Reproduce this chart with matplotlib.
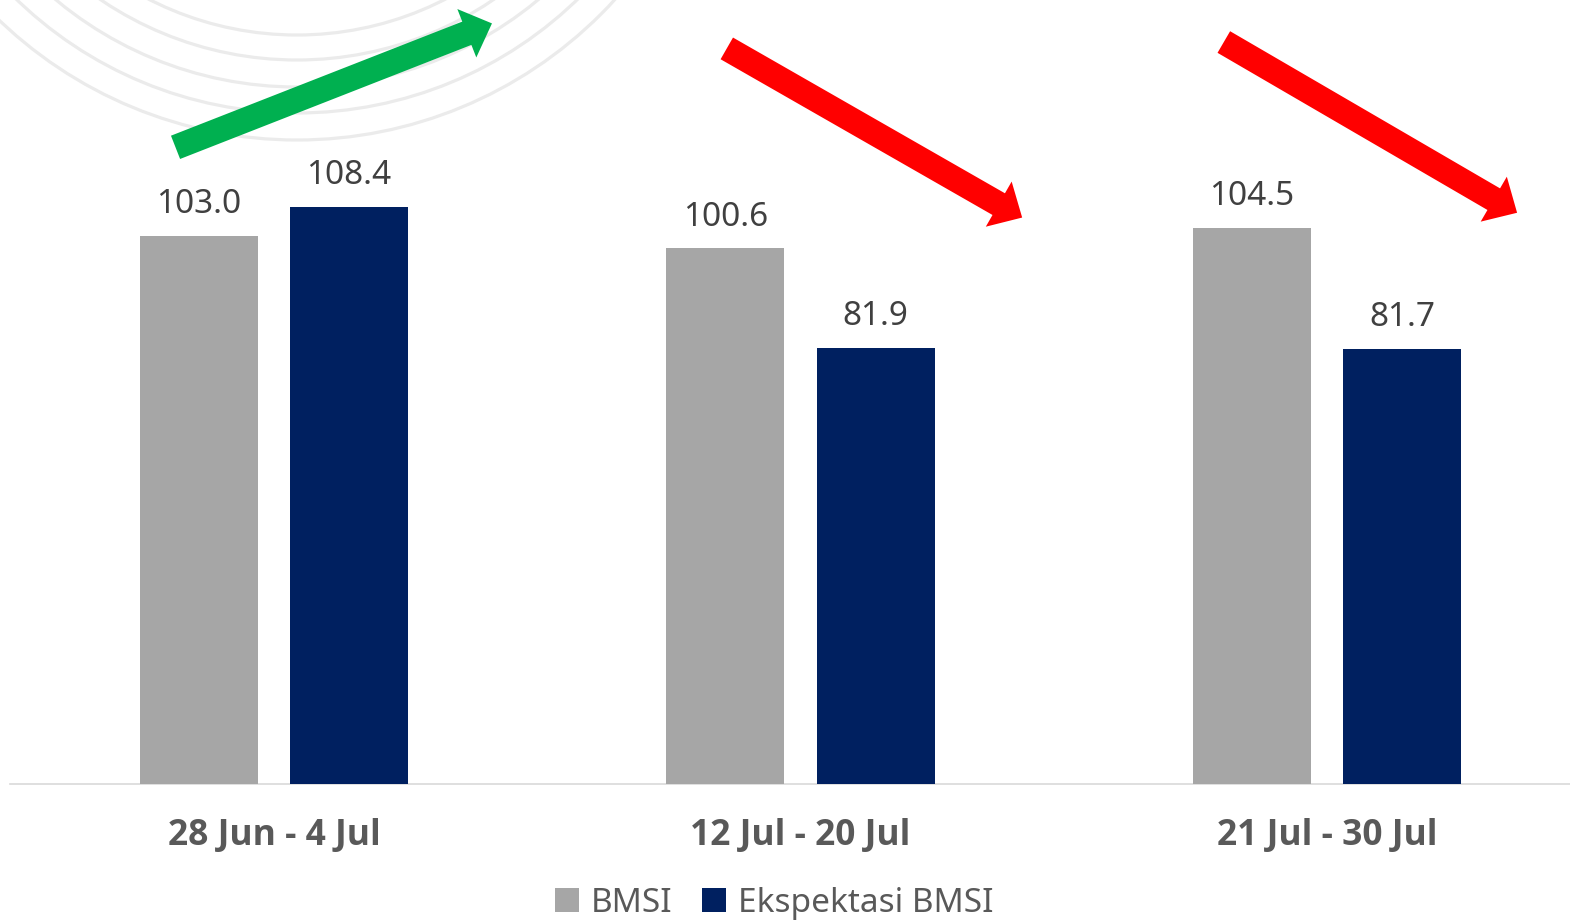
import numpy as np
import matplotlib
matplotlib.use("Agg")
import matplotlib.pyplot as plt
from matplotlib.patches import Patch, Polygon, Circle
from matplotlib.transforms import IdentityTransform

plt.rcParams["font.family"] = ["Noto Sans", "DejaVu Sans"]

periods = ["28 Jun - 4 Jul", "12 Jul - 20 Jul", "21 Jul - 30 Jul"]
bmsi = [103.0, 100.6, 104.5]
ekspektasi = [108.4, 81.9, 81.7]
series_names = ["BMSI", "Ekspektasi BMSI"]

GREY = "#A6A6A6"
NAVY = "#002060"
LABEL = "#404040"
TEXT = "#595959"

W, H, DPI = 1570, 922, 100
fig = plt.figure(figsize=(W / DPI, H / DPI), dpi=DPI)
ax = fig.add_axes([10 / W, (H - 783.5) / H, 1 - 10 / W, 783.5 / H])
ax.set_xlim(-0.5014, 2.4615)
ax.set_ylim(0, 147.3)

x = np.arange(len(periods))
bw, off = 0.2241, 0.1425
b1 = ax.bar(x - off, bmsi, bw, color=GREY, lw=0, zorder=3)
b2 = ax.bar(x + off, ekspektasi, bw, color=NAVY, lw=0, zorder=3)

for bars, vals in ((b1, bmsi), (b2, ekspektasi)):
    for r, v in zip(bars, vals):
        ax.annotate(f"{v:.1f}", (r.get_x() + r.get_width() / 2, v),
                    xytext=(0, 16.2), textcoords="offset points",
                    ha="center", va="baseline", fontsize=24, color=LABEL)

for i, p in enumerate(periods):
    ax.annotate(p, (i, 0), xycoords=("data", "axes fraction"),
                xytext=(0, -44.6), textcoords="offset points",
                ha="center", va="baseline", fontsize=25.5,
                fontweight="bold", color=TEXT,
                family=["Open Sans", "Lato", "DejaVu Sans"])

for s in ("top", "right", "left"):
    ax.spines[s].set_visible(False)
ax.spines["bottom"].set_color("#D9D9D9")
ax.spines["bottom"].set_linewidth(1.2)
ax.set_yticks([])
ax.set_xticks([])
ax.patch.set_alpha(0)

# faint concentric rings in the upper-left corner
for r in (325, 350, 377, 403, 430):
    fig.add_artist(Circle((297, H + 290), r, fill=False, ec="#EBEBEB",
                          lw=2.3, transform=IdentityTransform(), zorder=0))


def block_arrow(tail, tip, color, shaft=25, head_w=52, head_l=27):
    """Flat block arrow, sized in pixels, between two data points."""
    p0 = ax.transData.transform(tail)
    p1 = ax.transData.transform(tip)
    u = (p1 - p0) / np.hypot(*(p1 - p0))
    n = np.array([-u[1], u[0]])
    base = p1 - head_l * u
    pts = [p0 + n * shaft / 2, base + n * shaft / 2, base + n * head_w / 2, p1,
           base - n * head_w / 2, base - n * shaft / 2, p0 - n * shaft / 2]
    fig.add_artist(Polygon(pts, closed=True, fc=color, ec="none",
                           transform=IdentityTransform(), zorder=5))


block_arrow((-0.187, 119.6), (0.414, 142.9), "#00B050")
block_arrow((0.860, 138.2), (1.421, 106.4), "#FF0000")
block_arrow((1.804, 139.4), (2.361, 107.3), "#FF0000")

handles = [Patch(fc=GREY, ec="none"), Patch(fc=NAVY, ec="none")]
leg = fig.legend(handles, series_names, loc="center", ncol=2,
                 bbox_to_anchor=(774 / W, 1 - 903 / H), frameon=False,
                 fontsize=24, handlelength=0.72, handleheight=0.72,
                 handletextpad=0.35, columnspacing=0.9, borderaxespad=0)
for t in leg.get_texts():
    t.set_color(TEXT)

fig.savefig("out.png", dpi=DPI)
